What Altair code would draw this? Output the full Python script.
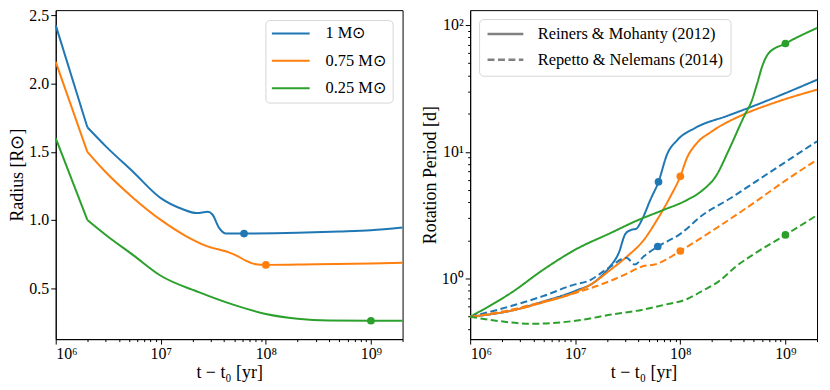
import altair as alt
import pandas as pd

BLUE, ORANGE, GREEN = "#1f77b4", "#ff7f0e", "#2ca02c"
masses = ["1 M⊙", "0.75 M⊙", "0.25 M⊙"]
mass_colors = [BLUE, ORANGE, GREEN]
models = ["Reiners & Mohanty (2012)", "Repetto & Nelemans (2014)"]

# ---------------- Radius panel ----------------
rad_t_1 = [1e6, 2e6, 3e6, 5.5e6, 1e7, 1.6e7, 2.2e7, 2.8e7, 3.1e7, 3.6e7, 4.2e7, 6.2e7, 2e8, 5e8, 1e9, 2e9]
rad_r_1 = [2.43, 1.68, 1.54, 1.35, 1.16, 1.08, 1.05, 1.06, 1.04, 0.94, 0.90, 0.90, 0.905, 0.915, 0.925, 0.945]
rad_t_075 = [1e6, 2e6, 3e6, 5.5e6, 1e7, 1.75e7, 2.7e7, 4.5e7, 5.2e7, 6.5e7, 8e7, 1e8, 3e8, 1e9, 2e9]
rad_r_075 = [2.16, 1.50, 1.35, 1.16, 1.0, 0.88, 0.81, 0.76, 0.74, 0.70, 0.675, 0.67, 0.675, 0.68, 0.685]
rad_t_025 = [1e6, 2e6, 3e6, 5.5e6, 1e7, 2.3e7, 4.8e7, 1e8, 2e8, 4e8, 1e9, 2e9]
rad_r_025 = [1.60, 1.0, 0.89, 0.74, 0.59, 0.47, 0.38, 0.31, 0.275, 0.262, 0.26, 0.26]
rad_dot_t = [6.2e7, 1e8, 1e9]
rad_dot_r = [0.90, 0.67, 0.26]

# ---------------- Rotation period panel ----------------
rs_t_1 = [1e6, 2.5e6, 5e6, 1e7, 1.5e7, 2.1e7, 2.6e7, 3.0e7, 3.4e7, 3.8e7, 4.3e7, 5.2e7, 6.2e7, 7.5e7, 9.3e7, 1.4e8, 2.8e8, 5.7e8, 1e9, 2e9]
rs_p_1 = [0.5, 0.56, 0.66, 0.80, 0.93, 1.22, 1.6, 2.25, 2.42, 2.47, 2.9, 4.2, 5.8, 9.6, 12.3, 15.5, 19.2, 24.0, 29.0, 37.0]
rs_t_075 = [1e6, 2.5e6, 5e6, 1e7, 1.5e7, 2.1e7, 3.1e7, 4.5e7, 6e7, 8e7, 1e8, 1.16e8, 1.41e8, 2e8, 4e8, 8e8, 2e9]
rs_p_075 = [0.5, 0.56, 0.65, 0.78, 0.93, 1.15, 1.49, 2.02, 2.9, 4.4, 6.4, 9.0, 11.5, 14.5, 19.7, 24.5, 30.9]
rs_t_025 = [1e6, 2.5e6, 5e6, 1e7, 2.2e7, 3.8e7, 6.8e7, 1.14e8, 1.62e8, 2.2e8, 2.92e8, 4.2e8, 4.7e8, 5.4e8, 6e8, 6.9e8, 1e9, 2e9]
rs_p_025 = [0.5, 0.78, 1.18, 1.69, 2.3, 2.85, 3.46, 4.14, 4.96, 6.5, 10.5, 20.3, 24.3, 34.8, 46.9, 59.7, 71.5, 94.8]

rn_t_1 = [1e6, 2.5e6, 5e6, 1e7, 1.3e7, 2.1e7, 3.07e7, 3.68e7, 4.5e7, 6.1e7, 1e8, 1.62e8, 3e8, 5.4e8, 1e9, 2e9]
rn_p_1 = [0.5, 0.61, 0.73, 0.9, 0.95, 1.22, 1.46, 1.29, 1.5, 1.79, 2.25, 3.16, 4.3, 5.93, 8.3, 12.1]
rn_t_075 = [1e6, 2.5e6, 5e6, 1e7, 2.1e7, 3e7, 4.4e7, 5.9e7, 7.3e7, 1e8, 2.3e8, 5e8, 1e9, 2e9]
rn_p_075 = [0.5, 0.57, 0.66, 0.77, 0.95, 1.08, 1.25, 1.3, 1.41, 1.65, 2.56, 3.95, 5.93, 8.66]
rn_t_025 = [1e6, 1.7e6, 4e6, 1.05e7, 2.2e7, 3.8e7, 7e7, 1.14e8, 1.62e8, 2.34e8, 3.4e8, 4.9e8, 1e9, 2e9]
rn_p_025 = [0.5, 0.467, 0.44, 0.467, 0.52, 0.556, 0.62, 0.686, 0.80, 0.955, 1.25, 1.54, 2.21, 3.16]

rot_dot_t = [6.2e7, 1e8, 1e9, 6.1e7, 1e8, 1e9]
rot_dot_p = [5.8, 6.4, 71.5, 1.79, 1.65, 2.21]
rot_dot_mass = masses + masses

x_major = [1e6, 1e7, 1e8, 1e9]
x_minor = [m * 10 ** e for e in (6, 7, 8) for m in range(2, 10)] + [2e9]
y_major_rot = [1, 10, 100]
y_minor_rot = [0.4, 0.5, 0.6, 0.7, 0.8, 0.9] + [m for m in range(2, 10)] + [m * 10 for m in range(2, 10)]
y_ticks_rad = [0.5, 1.0, 1.5, 2.0, 2.5]

# ---------------- tables ----------------
# The radius tracks have a sharp kink at the second point: draw the first
# stretch as its own straight segment so that the smoothing does not round it.
rad_rows = []
for m, ts, rs in zip(masses, [rad_t_1, rad_t_075, rad_t_025], [rad_r_1, rad_r_075, rad_r_025]):
    for i, (t, r) in enumerate(zip(ts, rs)):
        if i <= 1:
            rad_rows.append({"t": t, "r": r, "mass": m, "seg": "a", "order": i})
        if i >= 1:
            rad_rows.append({"t": t, "r": r, "mass": m, "seg": "b", "order": i})
rad_df = pd.DataFrame(rad_rows)
rad_dot_df = pd.DataFrame({"t": rad_dot_t, "r": rad_dot_r, "mass": masses})

rot_rows = []
series = [
    (masses[0], models[0], rs_t_1, rs_p_1), (masses[1], models[0], rs_t_075, rs_p_075),
    (masses[2], models[0], rs_t_025, rs_p_025), (masses[0], models[1], rn_t_1, rn_p_1),
    (masses[1], models[1], rn_t_075, rn_p_075), (masses[2], models[1], rn_t_025, rn_p_025),
]
for m, mod, ts, ps in series:
    for i, (t, p) in enumerate(zip(ts, ps)):
        rot_rows.append({"t": t, "p": p, "mass": m, "model": mod, "order": i})
rot_df = pd.DataFrame(rot_rows)
rot_dot_df = pd.DataFrame({"t": rot_dot_t, "p": rot_dot_p, "mass": rot_dot_mass})

XTITLE = "t − t₀ [yr]"
x_label_expr = ("datum.value == 1e6 ? '10⁶' : datum.value == 1e7 ? '10⁷' : "
                "datum.value == 1e8 ? '10⁸' : '10⁹'")
y_label_expr = "datum.value == 1 ? '10⁰' : datum.value == 10 ? '10¹' : '10²'"

x_scale = alt.Scale(type="log", domain=[1e6, 2e9], nice=False)
color_scale = alt.Scale(domain=masses, range=mass_colors)

W, H = 349, 331

# ---------- left ----------
rad_y_scale = alt.Scale(domain=[0.125, 2.54], nice=False, zero=False)
rad_lines = alt.Chart(rad_df).mark_line(strokeWidth=2, interpolate="monotone").encode(
    x=alt.X("t:Q", scale=x_scale, title=XTITLE,
            axis=alt.Axis(values=x_major, labelExpr=x_label_expr, orient="bottom")),
    y=alt.Y("r:Q", scale=rad_y_scale, title="Radius [R⊙]",
            axis=alt.Axis(values=y_ticks_rad, format=".1f", orient="left")),
    color=alt.Color("mass:N", scale=color_scale,
                    legend=alt.Legend(title=None, orient="top-right", offset=10,
                                      symbolType="stroke", symbolSize=1444,
                                      symbolStrokeWidth=2, labelOffset=15,
                                      clipHeight=16, rowPadding=10.5, padding=5.5)),
    detail="seg:N",
    order="order:Q",
)
rad_dots = alt.Chart(rad_dot_df).mark_circle(size=60, opacity=1).encode(
    x=alt.X("t:Q", scale=x_scale, axis=None),
    y=alt.Y("r:Q", scale=rad_y_scale, axis=None),
    color=alt.Color("mass:N", scale=color_scale, legend=None),
)
rad_minor = alt.Chart(rad_dot_df).mark_circle(opacity=0).encode(
    x=alt.X("t:Q", scale=x_scale,
            axis=alt.Axis(values=x_minor, labels=False, tickSize=2.5, domain=False,
                          title=None, orient="bottom")),
    y=alt.Y("r:Q", scale=rad_y_scale, axis=None),
)
left = alt.layer(rad_lines, rad_dots, rad_minor).resolve_axis(
    x="independent", y="independent").properties(width=W, height=H)

# ---------- right ----------
rot_y_scale = alt.Scale(type="log", domain=[0.333, 131], nice=False)
rot_lines = alt.Chart(rot_df).mark_line(strokeWidth=2, interpolate="monotone").encode(
    x=alt.X("t:Q", scale=x_scale, title=XTITLE,
            axis=alt.Axis(values=x_major, labelExpr=x_label_expr, orient="bottom")),
    y=alt.Y("p:Q", scale=rot_y_scale, title="Rotation Period [d]",
            axis=alt.Axis(values=y_major_rot, labelExpr=y_label_expr, orient="left")),
    color=alt.Color("mass:N", scale=color_scale, legend=None),
    strokeDash=alt.StrokeDash("model:N",
                              scale=alt.Scale(domain=models, range=[[1, 0], [7, 3.5]]),
                              legend=alt.Legend(title=None, orient="top-left", offset=9,
                                                symbolType="stroke", symbolSize=1296,
                                                symbolStrokeColor="#808080",
                                                symbolStrokeWidth=2.5, labelOffset=13,
                                                clipHeight=16, rowPadding=9, padding=7,
                                                labelLimit=400)),
    detail="mass:N",
    order="order:Q",
)
rot_dots = alt.Chart(rot_dot_df).mark_circle(size=60, opacity=1).encode(
    x=alt.X("t:Q", scale=x_scale, axis=None),
    y=alt.Y("p:Q", scale=rot_y_scale, axis=None),
    color=alt.Color("mass:N", scale=color_scale, legend=None),
)
rot_minor = alt.Chart(rot_dot_df).mark_circle(opacity=0).encode(
    x=alt.X("t:Q", scale=x_scale,
            axis=alt.Axis(values=x_minor, labels=False, tickSize=2.5, domain=False,
                          title=None, orient="bottom")),
    y=alt.Y("p:Q", scale=rot_y_scale,
            axis=alt.Axis(values=y_minor_rot, labels=False, tickSize=2.5, domain=False,
                          title=None, orient="left")),
)
right = alt.layer(rot_lines, rot_dots, rot_minor).resolve_axis(
    x="independent", y="independent").properties(width=W, height=H)

FONT = "Liberation Serif"
chart = alt.hconcat(left, right, spacing=13).resolve_scale(
    color="independent", strokeDash="independent"
).resolve_legend(color="independent", strokeDash="independent").properties(
    padding={"left": 0, "top": -3, "right": 0, "bottom": 0}
).configure(font=FONT).configure_axis(
    labelFont=FONT, titleFont=FONT, labelFontSize=16, titleFontSize=18,
    titleFontWeight="normal", labelColor="black", titleColor="black",
    domainColor="black", tickColor="black", grid=False, tickSize=5,
    labelPadding=2, titlePadding=2,
).configure_legend(
    labelFont=FONT, labelFontSize=16.5, labelColor="black", fillColor="white",
    strokeColor="#d6d6d6", cornerRadius=4, labelLimit=400,
).configure_view(stroke="black", strokeWidth=1)

chart.save("out.html", embed_options={"renderer": "svg", "actions": False})
